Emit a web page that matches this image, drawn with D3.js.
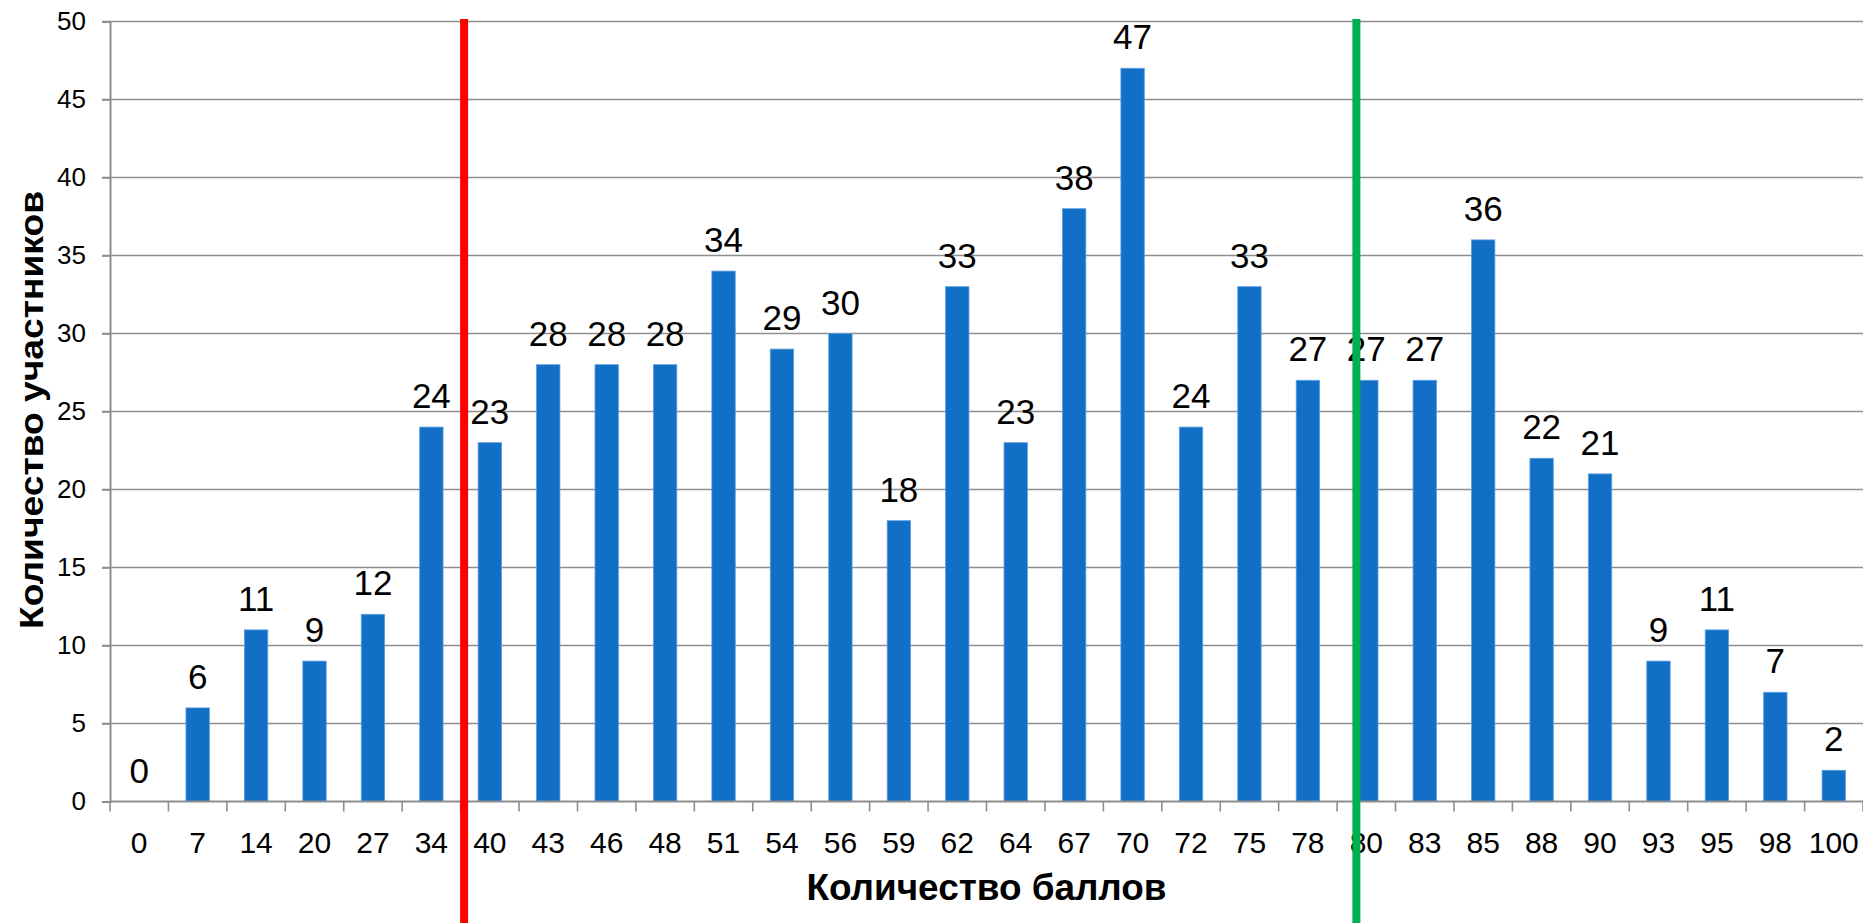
<!DOCTYPE html>
<html lang="ru">
  <head>
    <meta charset="UTF-8" />
    <title>Количество баллов</title>
    <script src="https://d3js.org/d3.v7.min.js"></script>
    <style>
      body { margin: 0; background: #fff; }
      text { font-family: "Liberation Sans", Arial, sans-serif; fill: #000; }
    </style>
  </head>
  <body>
    <script>
      // data
      const scores = ["0","7","14","20","27","34","40","43","46","48","51","54","56","59","62",
                      "64","67","70","72","75","78","80","83","85","88","90","93","95","98","100"];
      const counts = [0,6,11,9,12,24,23,28,28,28,34,29,30,18,33,
                      23,38,47,24,33,27,27,27,36,22,21,9,11,7,2];
      const yTicks = [0,5,10,15,20,25,30,35,40,45,50];
      // threshold lines: placed after a category, fraction of the step to the next one
      const thresholdAfter = ["34","78"];
      const thresholdFrac = [0.56, 0.83];
      const thresholdColor = ["#ff0000","#00b050"];

      const width = 1863, height = 923;
      const margin = { left: 110, right: 0, top: 21.5, bottom: 121.5 };

      const svg = d3.select("body").append("svg")
        .attr("width", width).attr("height", height);

      const x = d3.scaleBand().domain(scores)
        .range([margin.left, width - margin.right])
        .paddingInner(0.6).paddingOuter(0.3);
      const y = d3.scaleLinear().domain([0, 50])
        .range([height - margin.bottom, margin.top]);
      const step = x.step();

      // grid lines
      svg.append("g").selectAll("line").data(yTicks.slice(1)).join("line")
        .attr("x1", margin.left - 8).attr("x2", width)
        .attr("y1", d => y(d)).attr("y2", d => y(d))
        .attr("stroke", "#8e8e8e").attr("stroke-width", 1.6);

      // y axis
      const yAxis = svg.append("g")
        .attr("transform", `translate(${margin.left},0)`)
        .call(d3.axisLeft(y).tickValues(yTicks).tickSize(8).tickPadding(16));
      yAxis.select(".domain").attr("stroke", "#8e8e8e").attr("stroke-width", 2);
      yAxis.selectAll(".tick line").attr("stroke", "#8e8e8e").attr("stroke-width", 1.6);
      yAxis.selectAll(".tick text").attr("font-size", 26).attr("fill", "#000")
        .attr("font-family", "Liberation Sans, Arial, sans-serif");

      // bars
      svg.append("g").selectAll("rect").data(counts).join("rect")
        .attr("x", (d, i) => x(scores[i]))
        .attr("width", x.bandwidth())
        .attr("y", d => y(d))
        .attr("height", d => y(0) - y(d))
        .attr("fill", "#116fc6")
        .attr("stroke", "#5b9de0").attr("stroke-width", 0.8);

      // bar labels
      svg.append("g").selectAll("text").data(counts).join("text")
        .attr("x", (d, i) => x(scores[i]) + x.bandwidth() / 2)
        .attr("y", d => y(d) - 19)
        .attr("text-anchor", "middle")
        .attr("font-size", 35)
        .text(d => d);

      // x axis
      const xAxisG = svg.append("g").attr("transform", `translate(0,${y(0)})`);
      xAxisG.append("line")
        .attr("x1", margin.left).attr("x2", width)
        .attr("stroke", "#8e8e8e").attr("stroke-width", 2);
      xAxisG.selectAll(".tk").data(d3.range(scores.length + 1)).join("line")
        .attr("class", "tk")
        .attr("x1", i => margin.left + i * step).attr("x2", i => margin.left + i * step)
        .attr("y1", 0).attr("y2", 10)
        .attr("stroke", "#8e8e8e").attr("stroke-width", 1.6);
      xAxisG.selectAll("text").data(scores).join("text")
        .attr("x", d => x(d) + x.bandwidth() / 2)
        .attr("y", 51)
        .attr("text-anchor", "middle")
        .attr("font-size", 30)
        .text(d => d);

      // threshold lines
      svg.append("g").selectAll("line").data(thresholdAfter).join("line")
        .attr("x1", (d, i) => x(d) + x.bandwidth() / 2 + thresholdFrac[i] * step)
        .attr("x2", (d, i) => x(d) + x.bandwidth() / 2 + thresholdFrac[i] * step)
        .attr("y1", margin.top - 2.5).attr("y2", height)
        .attr("stroke", (d, i) => thresholdColor[i])
        .attr("stroke-width", 8);

      // axis titles
      svg.append("text")
        .attr("x", (margin.left + width) / 2).attr("y", 900)
        .attr("text-anchor", "middle")
        .attr("font-size", 37).attr("font-weight", "bold")
        .attr("textLength", 360).attr("lengthAdjust", "spacingAndGlyphs")
        .text("Количество баллов");
      svg.append("text")
        .attr("transform", `translate(43,410) rotate(-90)`)
        .attr("text-anchor", "middle")
        .attr("font-size", 34).attr("font-weight", "bold")
        .attr("textLength", 438).attr("lengthAdjust", "spacingAndGlyphs")
        .text("Количество участников");
    </script>
  </body>
</html>
